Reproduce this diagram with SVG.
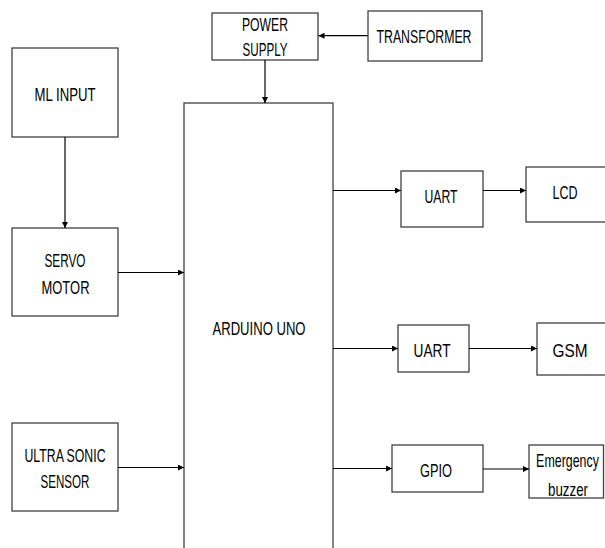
<svg xmlns="http://www.w3.org/2000/svg" width="605" height="548" viewBox="0 0 605 548">
<style>
.box{fill:#fff;stroke:#404040;stroke-width:1.3}
.t{font-family:"Liberation Sans",Arial,sans-serif;font-size:18px;fill:#000;text-anchor:middle}
.c{stroke:#000;stroke-width:1.2;fill:none}
</style>
<defs>
<marker id="ah" markerWidth="8" markerHeight="8" refX="6" refY="3" orient="auto" markerUnits="userSpaceOnUse">
<path d="M0,0 L6,3 L0,6 Z" fill="#000"/>
</marker>
</defs>
<rect width="605" height="548" fill="#fff"/>
<g id="power-supply"><rect class="box" x="212" y="13" width="106" height="47"/>
<text class="t" x="265" y="30.7" textLength="46" lengthAdjust="spacingAndGlyphs">POWER</text>
<text class="t" x="265" y="56" textLength="45" lengthAdjust="spacingAndGlyphs">SUPPLY</text></g>
<g id="transformer"><rect class="box" x="368" y="11" width="114" height="50"/>
<text class="t" x="424" y="43.3" textLength="95" lengthAdjust="spacingAndGlyphs">TRANSFORMER</text></g>
<g id="ml-input"><rect class="box" x="12" y="48" width="106" height="89"/>
<text class="t" x="65" y="100.7" textLength="61" lengthAdjust="spacingAndGlyphs">ML INPUT</text></g>
<g id="servo-motor"><rect class="box" x="12" y="228" width="106" height="88"/>
<text class="t" x="65" y="267.3" textLength="41" lengthAdjust="spacingAndGlyphs">SERVO</text>
<text class="t" x="65.5" y="294" textLength="48" lengthAdjust="spacingAndGlyphs">MOTOR</text></g>
<g id="ultrasonic"><rect class="box" x="12" y="423" width="106" height="88"/>
<text class="t" x="65" y="461.7" textLength="81" lengthAdjust="spacingAndGlyphs">ULTRA SONIC</text>
<text class="t" x="65" y="488.3" textLength="49" lengthAdjust="spacingAndGlyphs">SENSOR</text></g>
<g id="arduino"><rect class="box" x="184" y="103" width="149" height="460"/>
<text class="t" x="259" y="335" textLength="93" lengthAdjust="spacingAndGlyphs">ARDUINO UNO</text></g>
<g id="uart1"><rect class="box" x="401" y="171" width="82" height="56"/>
<text class="t" x="441" y="203.3" textLength="33" lengthAdjust="spacingAndGlyphs">UART</text></g>
<g id="lcd"><rect class="box" x="526" y="167" width="85" height="55"/>
<text class="t" x="565" y="199.3" textLength="25" lengthAdjust="spacingAndGlyphs">LCD</text></g>
<g id="uart2"><rect class="box" x="398" y="325" width="71" height="47"/>
<text class="t" x="432" y="356.7" textLength="37" lengthAdjust="spacingAndGlyphs">UART</text></g>
<g id="gsm"><rect class="box" x="537" y="323" width="74" height="52"/>
<text class="t" x="570" y="357.3" textLength="35" lengthAdjust="spacingAndGlyphs">GSM</text></g>
<g id="gpio"><rect class="box" x="392" y="445" width="91" height="47"/>
<text class="t" x="436" y="476.7" textLength="32" lengthAdjust="spacingAndGlyphs">GPIO</text></g>
<g id="buzzer"><rect class="box" x="529" y="445" width="74.5" height="53"/>
<text class="t" transform="translate(567.5,467.3) scale(0.69,1)" x="0" y="0">Emergency</text>
<text class="t" x="568" y="495.7" textLength="40" lengthAdjust="spacingAndGlyphs">buzzer</text></g>
<g id="connectors">
<line class="c" x1="368" y1="35.7" x2="318.5" y2="35.7" marker-end="url(#ah)"/>
<line class="c" x1="265" y1="60" x2="265" y2="103" marker-end="url(#ah)"/>
<line class="c" x1="65" y1="137" x2="65" y2="228" marker-end="url(#ah)"/>
<line class="c" x1="118" y1="272.5" x2="184" y2="272.5" marker-end="url(#ah)"/>
<line class="c" x1="118" y1="467.5" x2="184" y2="467.5" marker-end="url(#ah)"/>
<line class="c" x1="333" y1="190.5" x2="401" y2="190.5" marker-end="url(#ah)"/>
<line class="c" x1="483" y1="190.5" x2="526" y2="190.5" marker-end="url(#ah)"/>
<line class="c" x1="333" y1="348.5" x2="398" y2="348.5" marker-end="url(#ah)"/>
<line class="c" x1="469" y1="348.5" x2="537" y2="348.5" marker-end="url(#ah)"/>
<line class="c" x1="333" y1="468.5" x2="392" y2="468.5" marker-end="url(#ah)"/>
<line class="c" x1="483" y1="469" x2="529" y2="469" marker-end="url(#ah)"/>
</g>
</svg>
